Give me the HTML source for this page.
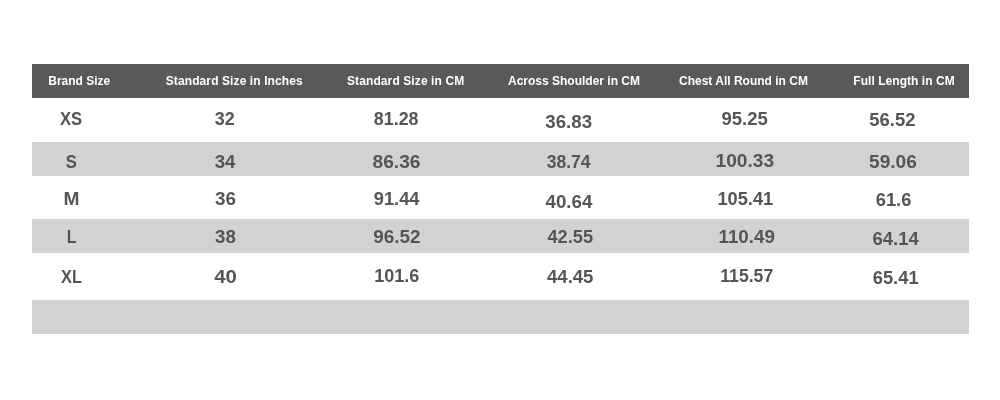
<!DOCTYPE html>
<html lang="en">
<head>
<meta charset="utf-8">
<title>Size Chart</title>
<style>
html,body{margin:0;padding:0;background:#fff;}
body{width:1000px;height:400px;position:relative;overflow:hidden;font-family:"Liberation Sans",sans-serif;}
.chart{position:absolute;left:32px;top:64px;width:937px;height:270px;}
.row{position:absolute;left:0;width:937px;}
.hd{background:#595959;}
.st{background:#d2d2d2;}
.t{position:absolute;white-space:nowrap;font-weight:bold;line-height:1;transform-origin:0 0;}
.h{color:#fff;font-size:12px;}
.n,.l{color:#555;font-size:17.5px;}
</style>
</head>
<body>
<div class="chart" role="table" aria-label="Size chart">
<div class="row hd" role="row" style="top:0px;height:34px">
  <span class="t h" role="columnheader" style="left:16px;top:11px;transform:translateX(0.25px)">Brand Size</span>
  <span class="t h" role="columnheader" style="left:133px;top:11px;letter-spacing:0.10px;transform:translateX(0.75px)">Standard Size in Inches</span>
  <span class="t h" role="columnheader" style="left:315px;top:11px;letter-spacing:0.10px">Standard Size in CM</span>
  <span class="t h" role="columnheader" style="left:476px;top:11px">Across Shoulder in CM</span>
  <span class="t h" role="columnheader" style="left:647px;top:11px">Chest All Round in CM</span>
  <span class="t h" role="columnheader" style="left:821px;top:11px;letter-spacing:0.05px;transform:translateX(0.25px)">Full Length in CM</span>
</div>
<div class="row" role="row" style="top:34px;height:44px">
  <span class="t l" role="cell" style="left:28px;top:13px;transform:scaleX(0.943)">XS</span>
  <span class="t n" role="cell" style="left:182px;top:13px;transform:translateX(0.75px) scaleX(1.027)">32</span>
  <span class="t n" role="cell" style="left:341px;top:13px;transform:translateX(0.75px) scaleX(1.023)">81.28</span>
  <span class="t n" role="cell" style="left:513px;top:16px;transform:translateX(0.25px) scaleX(1.069)">36.83</span>
  <span class="t n" role="cell" style="left:689px;top:13px;transform:translateX(0.5px) scaleX(1.059)">95.25</span>
  <span class="t n" role="cell" style="left:837px;top:14px;transform:translateX(0.25px) scaleX(1.054)">56.52</span>
</div>
<div class="row st" role="row" style="top:78px;height:34px">
  <span class="t l" role="cell" style="left:33px;top:12px;transform:translateX(0.75px) scaleX(0.950)">S</span>
  <span class="t n" role="cell" style="left:182px;top:12px;transform:translateX(0.75px) scaleX(1.065)">34</span>
  <span class="t n" role="cell" style="left:340px;top:12px;transform:translateX(0.5px) scaleX(1.095)">86.36</span>
  <span class="t n" role="cell" style="left:514px;top:12px;transform:translateX(0.75px)">38.74</span>
  <span class="t n" role="cell" style="left:683px;top:11px;transform:translateX(0.5px) scaleX(1.095)">100.33</span>
  <span class="t n" role="cell" style="left:837px;top:12px;transform:scaleX(1.093)">59.06</span>
</div>
<div class="row" role="row" style="top:112px;height:43px">
  <span class="t l" role="cell" style="left:31px;top:15px;transform:translateX(0.5px) scaleX(1.095)">M</span>
  <span class="t n" role="cell" style="left:183px;top:15px;transform:scaleX(1.078)">36</span>
  <span class="t n" role="cell" style="left:341px;top:15px;transform:translateX(0.75px) scaleX(1.045)">91.44</span>
  <span class="t n" role="cell" style="left:513px;top:18px;transform:translateX(0.5px) scaleX(1.070)">40.64</span>
  <span class="t n" role="cell" style="left:685px;top:15px;transform:translateX(0.5px) scaleX(1.039)">105.41</span>
  <span class="t n" role="cell" style="left:843px;top:16px;transform:translateX(0.75px) scaleX(1.044)">61.6</span>
</div>
<div class="row st" role="row" style="top:155px;height:34px">
  <span class="t l" role="cell" style="left:34px;top:10px;transform:translateX(0.75px) scaleX(0.922)">L</span>
  <span class="t n" role="cell" style="left:183px;top:10px;transform:scaleX(1.068)">38</span>
  <span class="t n" role="cell" style="left:341px;top:10px;transform:translateX(0.25px) scaleX(1.081)">96.52</span>
  <span class="t n" role="cell" style="left:515px;top:10px;transform:translateX(0.5px) scaleX(1.039)">42.55</span>
  <span class="t n" role="cell" style="left:686px;top:10px;transform:translateX(0.5px) scaleX(1.073)">110.49</span>
  <span class="t n" role="cell" style="left:840px;top:12px;transform:translateX(0.5px) scaleX(1.054)">64.14</span>
</div>
<div class="row" role="row" style="top:189px;height:47px">
  <span class="t l" role="cell" style="left:29px;top:16px;transform:scaleX(0.935)">XL</span>
  <span class="t n" role="cell" style="left:182px;top:16px;transform:translateX(0.25px) scaleX(1.162)">40</span>
  <span class="t n" role="cell" style="left:342px;top:15px;transform:translateX(0.25px) scaleX(1.028)">101.6</span>
  <span class="t n" role="cell" style="left:515px;top:16px;transform:scaleX(1.060)">44.45</span>
  <span class="t n" role="cell" style="left:688px;top:15px;transform:translateX(0.25px) scaleX(1.008)">115.57</span>
  <span class="t n" role="cell" style="left:840px;top:17px;transform:translateX(0.75px) scaleX(1.046)">65.41</span>
</div>
<div class="row st" role="row" style="top:236px;height:34px">
</div>
</div>
</body>
</html>
